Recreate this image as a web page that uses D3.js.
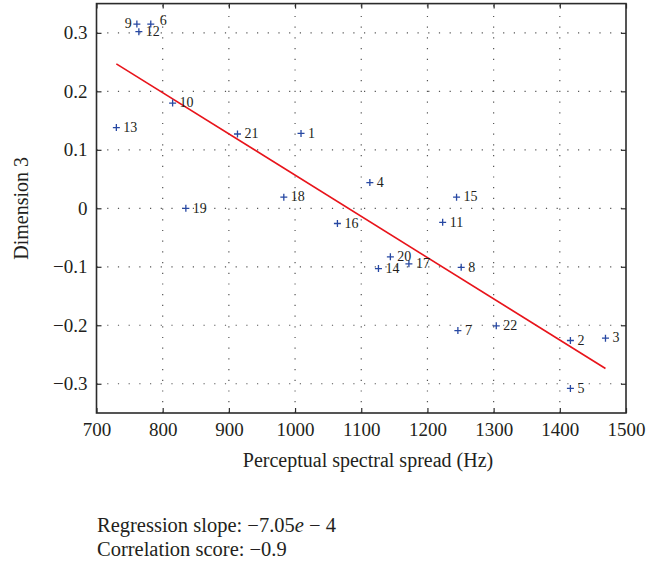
<!DOCTYPE html>
<html><head><meta charset="utf-8">
<script src="https://cdn.jsdelivr.net/npm/d3@7/dist/d3.min.js"></script>
<style>
body{margin:0;background:#fff;}
svg text{font-family:"Liberation Serif","Times New Roman",serif;fill:#231f20;}
</style></head>
<body><svg id="c" width="666" height="569"></svg>
<script>
const ids    = [1,2,3,4,5,6,7,8,9,10,11,12,13,14,15,16,17,18,19,20,21,22];
const spread = [1009,1416,1469,1113,1416,782,1246,1251,761,815,1223,764,730,1126,1244,1064,1172,983,835,1144,913,1304];
const dim3   = [0.128,-0.226,-0.222,0.044,-0.308,0.315,-0.209,-0.101,0.315,0.180,-0.024,0.302,0.138,-0.103,0.019,-0.026,-0.095,0.019,0.000,-0.083,0.127,-0.201];
const xTicks = [700,800,900,1000,1100,1200,1300,1400,1500];
const yTicks = [-0.3,-0.2,-0.1,0,0.1,0.2,0.3];
const regSlope = -7.05e-4;
const regIntercept = 0.7617;
const notes = ["Regression slope: ", "Correlation score: "];

const svg = d3.select("#c");
const L=96.5, R=626, T=3.6, B=413;
const x = d3.scaleLinear().domain([700,1500]).range([L,R]);
const y = d3.scaleLinear().domain([-0.35,0.35]).range([B,T]);
const dark="#2b2b2b";

// dotted grid
const grid = svg.append("g").attr("stroke","#555").attr("stroke-width",1.2).attr("stroke-dasharray","1.2,9.5");
grid.selectAll("line.v").data(xTicks.slice(1,-1)).join("line")
  .attr("x1",d=>x(d)).attr("x2",d=>x(d)).attr("y1",B).attr("y2",T);
grid.selectAll("line.h").data(yTicks).join("line")
  .attr("y1",d=>y(d)).attr("y2",d=>y(d)).attr("x1",L).attr("x2",R);

// axes
const fmtY = d => d===0 ? "0" : (d<0 ? "\u2212"+Math.abs(d).toFixed(1) : d.toFixed(1));
const gx = svg.append("g").attr("transform",`translate(0,${B})`)
  .call(d3.axisBottom(x).tickValues(xTicks).tickSize(-5).tickPadding(10).tickFormat(d3.format("d")));
const gy = svg.append("g").attr("transform",`translate(${L},0)`)
  .call(d3.axisLeft(y).tickValues(yTicks).tickSize(-5).tickPadding(9).tickFormat(fmtY));
const gx2 = svg.append("g").attr("transform",`translate(0,${T})`)
  .call(d3.axisTop(x).tickValues(xTicks).tickSize(-5).tickFormat(""));
const gy2 = svg.append("g").attr("transform",`translate(${R},0)`)
  .call(d3.axisRight(y).tickValues(yTicks).tickSize(-5).tickFormat(""));
[gx,gy,gx2,gy2].forEach(g=>{
  g.select(".domain").remove();
  g.selectAll(".tick line").attr("stroke",dark).attr("stroke-width",1.2);
  g.selectAll("text").attr("font-family","Liberation Serif, serif").attr("font-size",19).attr("fill","#231f20");
});
svg.append("rect").attr("x",L).attr("y",T).attr("width",R-L).attr("height",B-T)
  .attr("fill","none").attr("stroke",dark).attr("stroke-width",1.6);

// axis titles
svg.append("text").attr("x",368).attr("y",467).attr("text-anchor","middle")
  .attr("font-size",20).text("Perceptual spectral spread (Hz)");
svg.append("text").attr("transform",`translate(28,${(T+B)/2}) rotate(-90)`).attr("text-anchor","middle")
  .attr("font-size",20).text("Dimension 3");

// regression line
const xs = d3.extent(spread);
svg.append("line")
  .attr("x1",x(xs[0])).attr("y1",y(regIntercept+regSlope*xs[0]))
  .attr("x2",x(xs[1])).attr("y2",y(regIntercept+regSlope*xs[1]))
  .attr("stroke","#e8141b").attr("stroke-width",1.6);

// points
const pts = ids.map((id,i)=>({id, sx:spread[i], d:dim3[i]}));
const blue="#2748a3";
const pg = svg.append("g").selectAll("g").data(pts).join("g")
  .attr("transform",d=>`translate(${x(d.sx)},${y(d.d)})`);
pg.append("path").attr("d","M-3.5,0H3.5M0,-3.5V3.5").attr("stroke",blue).attr("stroke-width",1.3);
pg.append("text")
  .attr("x",d=>d.id===9?-5:(d.id===6?9:7)).attr("dy",d=>d.id===6?"0.1em":"0.3em")
  .attr("text-anchor",d=>d.id===9?"end":"start")
  .attr("font-size",14).text(d=>d.id);

// notes
const n1 = svg.append("text").attr("x",97).attr("y",532).attr("font-size",20.5);
n1.append("tspan").text(notes[0]+"\u22127.05");
n1.append("tspan").attr("font-style","italic").text("e");
n1.append("tspan").text(" \u2212 4");
svg.append("text").attr("x",97).attr("y",556).attr("font-size",20.5).text(notes[1]+"\u22120.9");
</script></body></html>
